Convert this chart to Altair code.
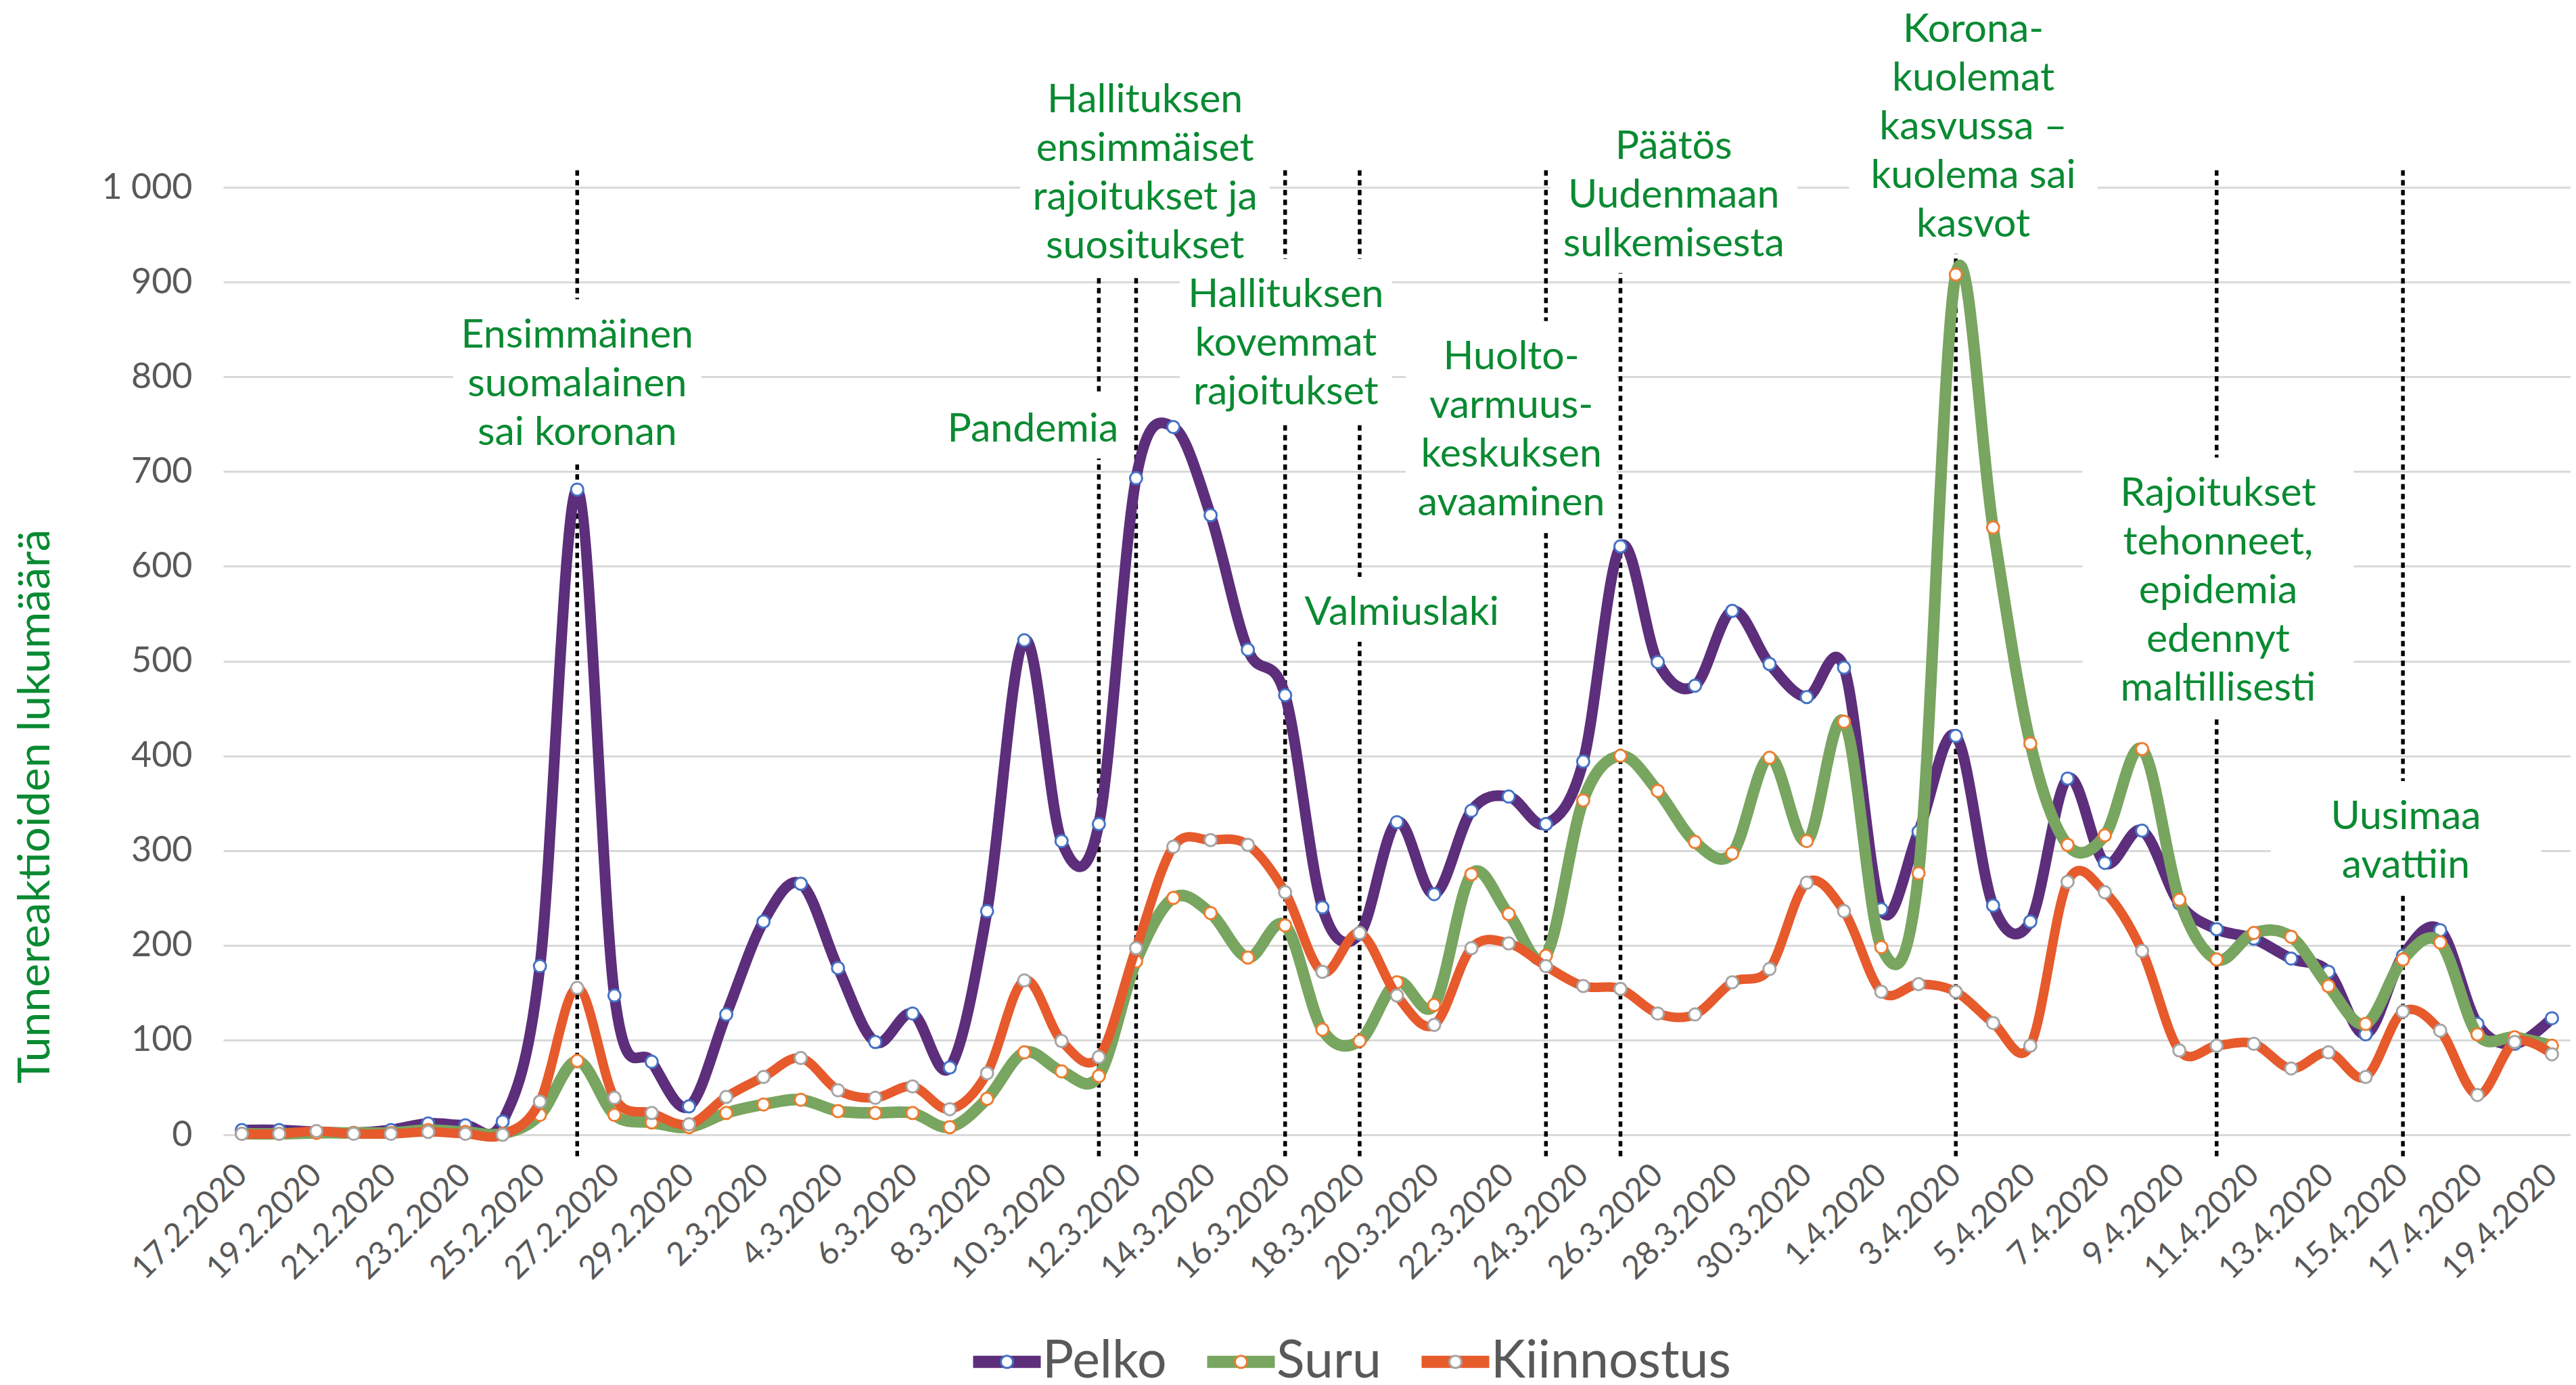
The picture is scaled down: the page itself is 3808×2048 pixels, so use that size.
import json
import altair as alt
import pandas as pd

# ---------------- data ----------------
dates = [f"{d.day}.{d.month}.{d.year}" for d in pd.date_range("2020-02-17", "2020-04-19", freq="D")]

pelko = [5, 5, 3, 2, 5, 12, 10, 14, 178, 681,
         147, 77, 30, 127, 225, 265, 176, 98, 128, 71,
         236, 522, 310, 328, 693, 747, 654, 512, 464, 240,
         212, 330, 254, 342, 357, 328, 394, 621, 499, 474,
         553, 497, 462, 493, 238, 320, 421, 242, 225, 376,
         287, 321, 244, 217, 207, 186, 172, 106, 189, 216,
         117, 96, 123]
suru = [1, 1, 2, 2, 2, 5, 3, 1, 21, 78,
        21, 13, 8, 23, 32, 37, 25, 23, 23, 8,
        38, 87, 67, 62, 183, 250, 234, 187, 221, 111,
        99, 161, 137, 275, 233, 189, 353, 400, 363, 309,
        297, 398, 310, 436, 198, 276, 908, 641, 413, 306,
        316, 407, 248, 185, 213, 209, 157, 117, 185, 203,
        106, 103, 94]
kiinnostus = [1, 1, 4, 1, 1, 3, 1, 0, 35, 155,
              39, 23, 11, 40, 61, 81, 47, 39, 51, 27,
              65, 163, 99, 82, 197, 304, 311, 306, 256, 172,
              213, 147, 116, 197, 202, 178, 157, 154, 128, 127,
              161, 175, 266, 236, 151, 159, 151, 118, 94, 267,
              256, 194, 89, 94, 96, 70, 87, 61, 130, 110,
              42, 98, 85]

series_names = ["Pelko", "Suru", "Kiinnostus"]
series_values = [pelko, suru, kiinnostus]

# event dates (dotted vertical lines)
event_dates = ["26.2.2020", "11.3.2020", "12.3.2020", "16.3.2020", "18.3.2020",
               "23.3.2020", "25.3.2020", "3.4.2020", "10.4.2020", "15.4.2020"]

# annotation texts and anchors (day index of text centre, value at first text line)
ann_texts = [
    "Ensimmäinen\nsuomalainen\nsai koronan",
    "Pandemia",
    "Hallituksen\nensimmäiset\nrajoitukset ja\nsuositukset",
    "Hallituksen\nkovemmat\nrajoitukset",
    "Valmiuslaki",
    "Huolto-\nvarmuus-\nkeskuksen\navaaminen",
    "Päätös\nUudenmaan\nsulkemisesta",
    "Korona-\nkuolemat\nkasvussa –\nkuolema sai\nkasvot",
    "Rajoitukset\ntehonneet,\nepidemia\nedennyt\nmaltillisesti",
    "Uusimaa\navattiin",
]
ann_x = [9.0, 21.23, 24.24, 28.02, 31.13, 34.07, 38.43, 46.47, 53.04, 58.08]
ann_y = [844, 744.5, 1092, 886.5, 551, 821, 1043, 1166, 677, 335.5]
ann_box_w = [367, 282, 369, 314, 320, 312, 366, 367, 401, 400]

# ---------------- styling ----------------
W, H = 3470, 1401
PX_DAY = W / 63.0
PX_UNIT = H / 1000.0
FONT = "Lato"
GREEN = "#0A8A32"
GRAY = "#595959"
line_colors = ["#5C2E7B", "#78A55F", "#E65A2C"]
marker_colors = ["#4472C4", "#ED7D31", "#A5A5A5"]
line_widths = [16, 17, 14]
LINE_H = 72

# ---------------- tables ----------------
rows = []
for name, vals in zip(series_names, series_values):
    for i, v in enumerate(vals):
        rows.append({"idx": i, "date": dates[i], "series": name, "value": v})
df = pd.DataFrame(rows)

rules_df = pd.DataFrame({
    "idx": [dates.index(d) for d in event_dates],
    "top": [1018] * len(event_dates),
    "bot": [-24] * len(event_dates),
})

ann = pd.DataFrame({"text": ann_texts, "x": ann_x, "y": ann_y, "w": ann_box_w})
ann["n"] = ann["text"].str.count("\n") + 1
ann["x0"] = ann["x"] - ann["w"] / 2 / PX_DAY
ann["x1"] = ann["x"] + ann["w"] / 2 / PX_DAY
ann["y0"] = ann["y"] + 53 / PX_UNIT
ann["y1"] = ann["y"] - ((ann["n"] - 1) * LINE_H + 43) / PX_UNIT

# ---------------- scales / axes ----------------
xscale = alt.Scale(domain=[-0.5, 62.5], nice=False, zero=False)
yscale = alt.Scale(domain=[0, 1000], nice=False)

xaxis = alt.Axis(values=list(range(0, 63, 2)),
                 labelExpr=json.dumps(dates) + "[datum.value]",
                 labelAngle=-45, labelAlign="right", labelBaseline="middle",
                 labelFontSize=48, labelFont=FONT, labelColor=GRAY, labelPadding=52,
                 labelLimit=1000,
                 ticks=False, domain=False, grid=False, title=None,
                 labelOverlap=False, labelFlush=False)
yaxis = alt.Axis(values=list(range(0, 1001, 100)),
                 labelExpr="replace(format(datum.value, ','), ',', ' ')",
                 labelFontSize=52, labelFont=FONT, labelColor=GRAY, labelPadding=46,
                 ticks=False, domain=False, grid=True, gridColor="#D9D9D9", gridWidth=3,
                 title="Tunnereaktioiden lukumäärä", titleFont=FONT, titleFontSize=66,
                 titleFontWeight="normal", titleColor=GREEN, titleX=-278, titleY=915,
                 titleAlign="center", titleBaseline="middle")

fill_scale = alt.Scale(domain=series_names, range=line_colors)
stroke_scale = alt.Scale(domain=series_names, range=marker_colors)

# legend symbol: bar (line colour) with a ring marker (marker colour) in the middle
R = 0.18
K = round(0.5523 * R, 4)
leg_symbol = (
    f"M{R},0C{R},{K},{K},{R},0,{R}C{-K},{R},{-R},{K},{-R},0"
    f"C{-R},{-K},{-K},{-R},0,{-R}C{K},{-R},{R},{-K},{R},0"
    f"L1,0L1,{-R}L-1,{-R}L-1,{R}L1,{R}L1,0L{R},0Z"
)
legend = alt.Legend(orient="none", legendX=1107, legendY=1685, direction="horizontal",
                    title=None, symbolType=leg_symbol, symbolSize=10000, symbolStrokeWidth=3,
                    symbolDash=[56.5, 4000],
                    labelFont=FONT, labelFontSize=77, labelColor=GRAY, labelOffset=1,
                    columnPadding=53, padding=0, labelLimit=1000)

X = lambda f: alt.X(f, type="quantitative", scale=xscale, axis=xaxis)
Y = lambda f: alt.Y(f, type="quantitative", scale=yscale, axis=yaxis)

rules = alt.Chart(rules_df).mark_rule(color="black", strokeWidth=5.5, strokeDash=[8, 6.5]).encode(
    x=X("idx"), y=Y("top"), y2="bot")
boxes = alt.Chart(ann).mark_rect(color="white", opacity=1).encode(
    x=X("x0"), x2="x1", y=Y("y0"), y2="y1")
texts = alt.Chart(ann).mark_text(font=FONT, fontSize=59, lineHeight=LINE_H, color=GREEN,
                                 align="center", baseline="middle", lineBreak="\n").encode(
    x=X("x"), y=Y("y"), text="text:N")

layers = [rules, boxes, texts]
base = alt.Chart(df)
for name, lw, lc, mc in zip(series_names, line_widths, line_colors, marker_colors):
    sub = base.transform_filter(alt.datum.series == name)
    line = sub.mark_line(interpolate="cardinal", tension=0, strokeCap="round", strokeJoin="round").encode(
        x=X("idx"), y=Y("value"), color=alt.value(lc), strokeWidth=alt.value(lw))
    pts = sub.mark_point(shape="circle", filled=True, size=324, opacity=1, strokeWidth=3).encode(
        x=X("idx"), y=Y("value"), fill=alt.value("white"), stroke=alt.value(mc))
    layers += [line, pts]

# legend-only layer (no rows drawn): combined fill + stroke legend
legend_layer = base.transform_filter("false").mark_point(filled=True, opacity=1).encode(
    x=X("idx"), y=Y("value"),
    fill=alt.Fill("series:N", scale=fill_scale, legend=legend),
    stroke=alt.Stroke("series:N", scale=stroke_scale, legend=legend))
layers.append(legend_layer)

chart = alt.layer(*layers).properties(
    width=W, height=H,
    padding={"left": 322, "top": 269, "right": 0, "bottom": 362},
    autosize=alt.AutoSizeParams(type="none"),
    background="white",
).configure_view(stroke=None)

chart.save("out.html", embed_options={"renderer": "svg", "actions": False})
